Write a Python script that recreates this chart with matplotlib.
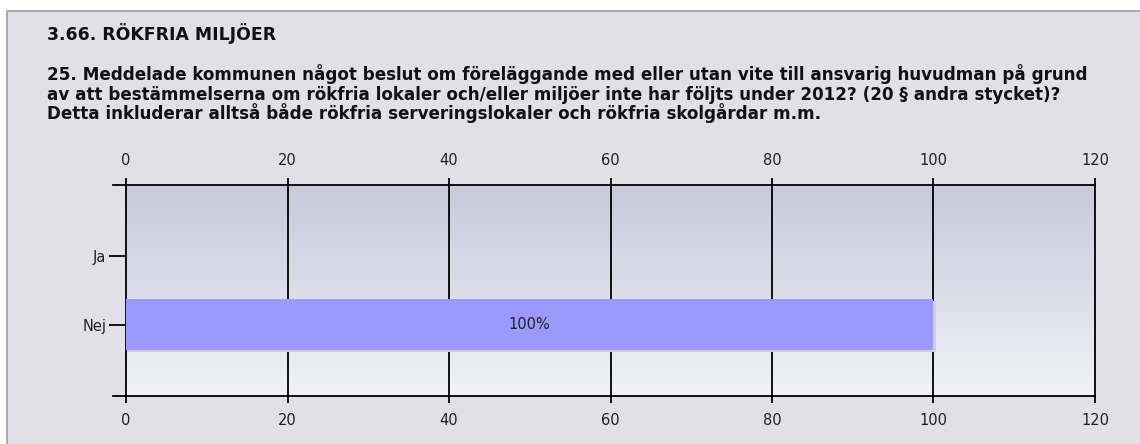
import numpy as np
import matplotlib.pyplot as plt
from matplotlib.patches import Rectangle

plt.rcParams["font.family"] = ["DejaVu Sans"]

categories = ["Nej", "Ja"]
values = [100, 0]
bar_labels = ["100%", ""]
x_ticks = [0, 20, 40, 60, 80, 100, 120]

section_title = "3.66. RÖKFRIA MILJÖER"
question_lines = [
    "25. Meddelade kommunen något beslut om föreläggande med eller utan vite till ansvarig huvudman på grund",
    "av att bestämmelserna om rökfria lokaler och/eller miljöer inte har följts under 2012? (20 § andra stycket)?",
    "Detta inkluderar alltså både rökfria serveringslokaler och rökfria skolgårdar m.m.",
]

W, H = 1140, 444
fig = plt.figure(figsize=(W / 100, H / 100), dpi=100)
fig.patch.set_facecolor("white")

# outer panel
panel = Rectangle((7 / W, -0.1), 1.2, (H - 11) / H + 0.1, transform=fig.transFigure,
                  facecolor="#e0e0e6", edgecolor="#a0a0a0", linewidth=1.2, zorder=-1)
fig.patches.append(panel)

fig.text(47 / W, 1 - 40 / H, section_title, fontsize=12.4, fontweight="bold", va="baseline", color="#111111")
for i, line in enumerate(question_lines):
    fig.text(47 / W, 1 - (80 + 19.5 * i) / H, line, fontsize=12.1, fontweight="bold",
             va="baseline", color="#111111")

left, right, top, bottom = 126, 1095, 185, 396
ax = fig.add_axes([left / W, 1 - bottom / H, (right - left) / W, (bottom - top) / H])

# gradient background
grad = np.linspace(0, 1, 256).reshape(-1, 1)
c_top = np.array([0xc9, 0xc9, 0xda]) / 255
c_bot = np.array([0xf1, 0xf1, 0xf8]) / 255
img = c_top + (c_bot - c_top) * grad[..., None]
ax.imshow(img, extent=[0, 1, 0, 1], transform=ax.transAxes, aspect="auto", zorder=0)

ypos = np.arange(len(categories))
for x in x_ticks[1:-1]:
    ax.axvline(x, color="black", linewidth=1.3, zorder=1)

# shadow then bar
ax.barh(ypos - 0.03, [v + 0.3 if v else 0 for v in values], height=0.76, color="#cfcfd6", zorder=2)
bars = ax.barh(ypos, values, height=0.76, color="#9999ff", zorder=3)
for b, lab in zip(bars, bar_labels):
    if lab:
        ax.text(b.get_width() / 2, b.get_y() + b.get_height() / 2, lab, ha="center", va="center",
                fontsize=10.5, color="#222222", zorder=4)

ax.set_xlim(0, 120)
ax.set_ylim(-1.05, 2.05)
ax.set_xticks(x_ticks)
ax.set_yticks(ypos)
ax.set_yticklabels(categories)
ax.tick_params(axis="x", top=True, labeltop=True, direction="out", length=5, width=1.3,
               labelsize=10.5, pad=7, labelcolor="#222222")
ax.tick_params(axis="y", direction="out", length=12, width=1.3, labelsize=10.5, pad=2,
               labelcolor="#222222")
for s in ax.spines.values():
    s.set_linewidth(1.3)
    s.set_color("black")

# top/bottom lines extend left of the axes
for yy in (0, 1):
    ax.plot([-13 / (right - left), 0], [yy, yy], transform=ax.transAxes, color="black",
            linewidth=1.3, clip_on=False, zorder=5)

fig.savefig("out.png", dpi=100, facecolor=fig.get_facecolor())
